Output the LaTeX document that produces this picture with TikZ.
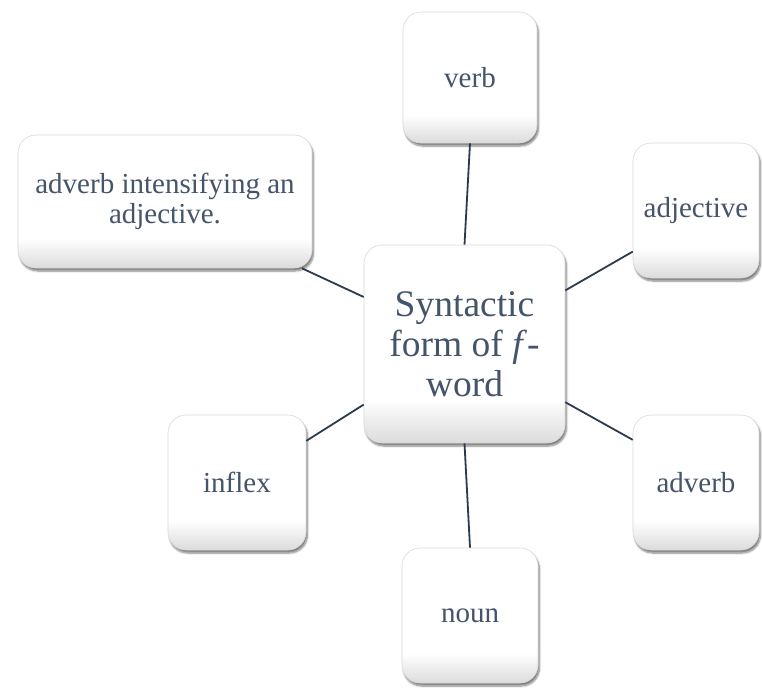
\documentclass[tikz,border=0pt]{standalone}
\usepackage{fontspec}
\setmainfont{Liberation Serif}
\usetikzlibrary{shadows.blur}
\definecolor{txt}{HTML}{44546A}
\definecolor{ln}{HTML}{2B3A4F}
\pgfdeclareverticalshading{boxshade}{100bp}{color(0bp)=(black!14); color(25bp)=(black!14); color(36bp)=(white); color(100bp)=(white)}
\tikzset{
  box/.style={draw=black!15, line width=0.6pt, rounded corners=18pt,
    shading=boxshade,
    blur shadow={shadow xshift=1.5pt, shadow yshift=-3pt, shadow blur steps=6, shadow opacity=50},
    align=center, text=txt, inner sep=0pt,
    font=\fontsize{29}{30}\selectfont},
  conn/.style={draw=ln, line width=1.8pt}
}
\begin{document}
\begin{tikzpicture}[x=1pt,y=-1pt]
\useasboundingbox (0,0) rectangle (762,688);
\node[box, minimum width=201pt, minimum height=198pt, font=\fontsize{37.5}{40}\selectfont] (c) at (464.5,344) {Syntactic\\form of \textit{f}-\\word};
\node[box, minimum width=134pt, minimum height=131pt] (verb) at (470,77.5) {verb};
\node[box, minimum width=126pt, minimum height=135pt] (adj) at (696,210.5) {adjective};
\node[box, minimum width=294pt, minimum height=133pt] (advint) at (165,201.5) {adverb intensifying an\\adjective.};
\node[box, minimum width=138pt, minimum height=135pt] (inflex) at (237,482.5) {inflex};
\node[box, minimum width=126pt, minimum height=135pt] (adverb) at (696,482.5) {adverb};
\node[box, minimum width=136pt, minimum height=135pt] (noun) at (470,615.5) {noun};
\draw[conn] (verb.south) -- (c.north);
\draw[conn] (c.28) -- (adj.213.7);
\draw[conn] (advint.-26.2) -- (c.155.6);
\draw[conn] (inflex.31.4) -- (c.211.8);
\draw[conn] (c.-30.8) -- (adverb.146);
\draw[conn] (c.south) -- (noun.north);
\end{tikzpicture}
\end{document}
